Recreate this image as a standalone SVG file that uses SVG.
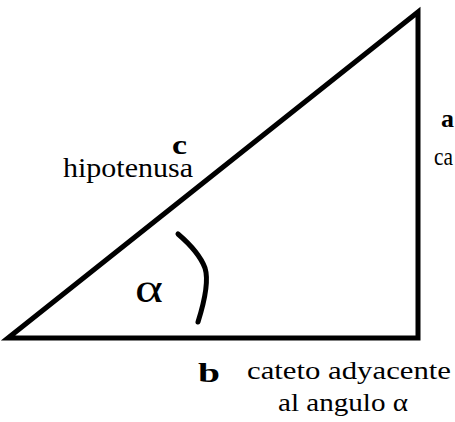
<svg xmlns="http://www.w3.org/2000/svg" width="455" height="422" viewBox="0 0 455 422">
<style>
.t{font-family:"Liberation Serif","Times New Roman","DejaVu Serif",serif;fill:#000}
.b{font-weight:bold}
.ln{fill:none;stroke:#000;stroke-width:5}
</style>
<rect width="455" height="422" fill="#fff"/>
<g id="connectors">
<path class="ln" d="M8,338 L418,12 L418,338 Z" stroke-linejoin="miter"/>
</g>
<g id="angle-arc">
<path class="ln" d="M178,234 Q199,252 205,268 Q210,284 198,322" stroke-width="4.5" stroke-linecap="round"/>
</g>
<g id="label-c">
<text class="t b" x="172" y="154" font-size="27" textLength="15" lengthAdjust="spacingAndGlyphs">c</text>
<text class="t" x="63" y="177" font-size="27" textLength="130" lengthAdjust="spacingAndGlyphs">hipotenusa</text>
</g>
<g id="label-a">
<text class="t b" x="441" y="127" font-size="26">a</text>
<text class="t" x="434" y="165" font-size="25" textLength="19" lengthAdjust="spacingAndGlyphs">ca</text>
</g>
<g id="label-alpha">
<text class="t" x="135" y="302" font-size="40" textLength="28" lengthAdjust="spacingAndGlyphs">α</text>
</g>
<g id="label-b">
<text class="t b" x="198" y="382" font-size="27" textLength="22" lengthAdjust="spacingAndGlyphs">b</text>
<text class="t" x="247" y="379" font-size="25" textLength="204" lengthAdjust="spacingAndGlyphs">cateto adyacente</text>
<text class="t" x="278" y="411" font-size="25" textLength="130" lengthAdjust="spacingAndGlyphs">al angulo α</text>
</g>
</svg>
